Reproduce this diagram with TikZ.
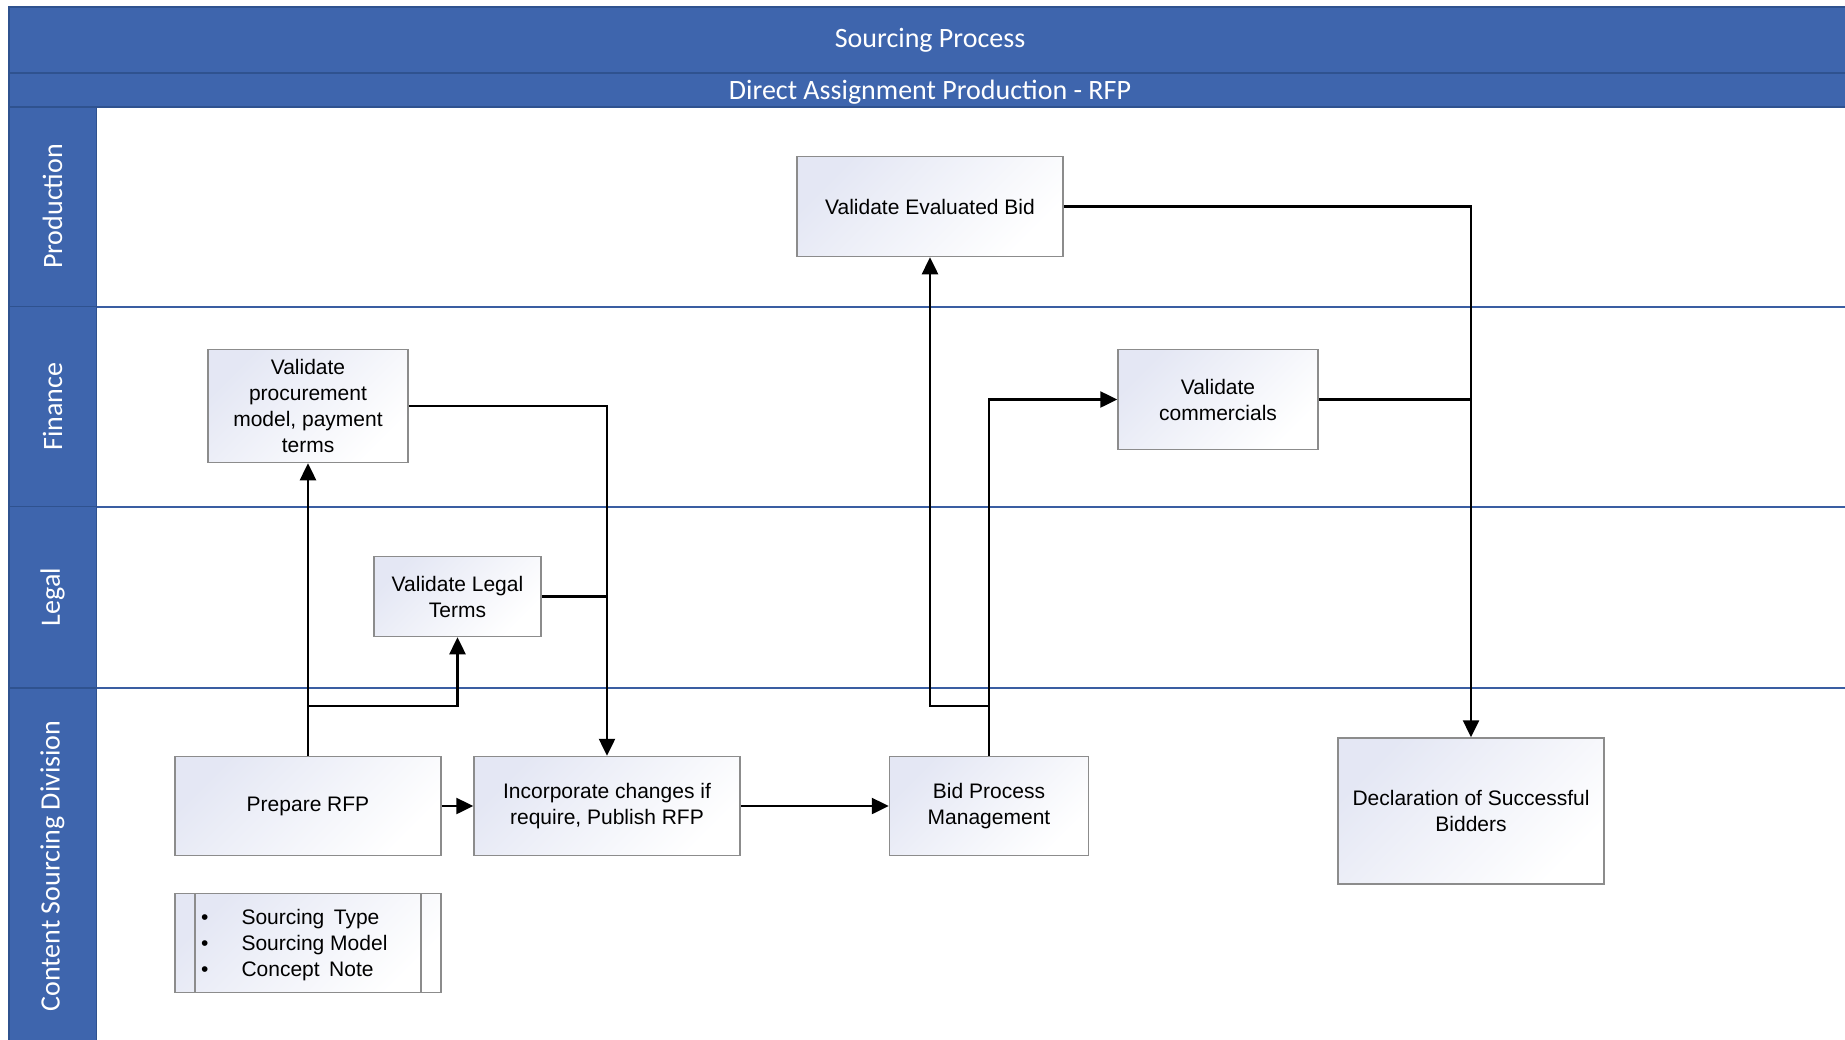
\documentclass[tikz,border=0pt]{standalone}
\usepackage{fontspec}
\setmainfont{Liberation Sans}
\newfontfamily\lanefont{Carlito}
\usetikzlibrary{arrows.meta}
\definecolor{bandblue}{RGB}{62,101,173}
\definecolor{banddark}{RGB}{47,82,143}
\definecolor{laneline}{RGB}{58,94,162}
\definecolor{boxgray}{RGB}{140,140,140}
\definecolor{boxlav}{RGB}{228,231,244}
\tikzset{
  band/.style={fill=bandblue, draw=banddark, line width=1.6pt},
  bandtext/.style={text=white, font=\lanefont\fontsize{28}{32}\selectfont, inner sep=0pt},
  lanetext/.style={text=white, font=\lanefont\fontsize{28}{32}\selectfont, inner sep=0pt, rotate=90},
  sepline/.style={draw=laneline, line width=2pt},
  task/.style={draw=boxgray, line width=1.5pt, top color=boxlav, bottom color=white, shading angle=45,
    align=center, inner sep=2pt, font=\fontsize{21}{26}\selectfont},
  arr/.style={line width=2.5pt, -{Triangle[length=17pt,width=16pt]}},
  link/.style={line width=2.5pt}
}
\begin{document}
\begin{tikzpicture}[x=1pt,y=-1pt]
\useasboundingbox (0,0) rectangle (1845,1039);
\fill[white] (0,0) rectangle (1845,1039);
% title bands
\draw[band] (9,7) rectangle (1850,73);
\draw[band] (9,73) rectangle (1850,107);
\node[bandtext] (title) at (930,40.5) {Sourcing Process};
\node[bandtext] (subtitle) at (930,92) {Direct Assignment Production - RFP};
% lane headers
\draw[band] (9,107) rectangle (96.5,306.5);
\draw[band] (9,306.5) rectangle (96.5,506.5);
\draw[band] (9,506.5) rectangle (96.5,688);
\draw[band] (9,688) rectangle (96.5,1045);
\node[lanetext] (lprod) at (52.5,206.5) {Production};
\node[lanetext] (lfin) at (52.5,406.5) {Finance};
\node[lanetext] (lleg) at (52.5,597) {Legal};
\node[lanetext] (lcsd) at (52.5,866) {Content Sourcing Division};
% lane separators
\draw[sepline] (96.5,306.5) -- (1850,306.5);
\draw[sepline] (96.5,506.5) -- (1850,506.5);
\draw[sepline] (96.5,688) -- (1850,688);
% tasks
\node[task, minimum width=266pt, minimum height=100pt] (veb) at (930,206.5) {Validate Evaluated Bid};
\node[task, minimum width=200pt, minimum height=113pt] (vpm) at (308,406) {Validate\\procurement\\model, payment\\terms};
\node[task, minimum width=200pt, minimum height=100pt] (vc) at (1218,399.5) {Validate\\commercials};
\node[task, minimum width=167pt, minimum height=80pt] (vlt) at (457.5,596.5) {Validate Legal\\Terms};
\node[task, minimum width=266pt, minimum height=99pt] (prfp) at (308,806) {Prepare RFP};
\node[task, minimum width=266pt, minimum height=99pt] (ich) at (607,806) {Incorporate changes if\\require, Publish RFP};
\node[task, minimum width=199pt, minimum height=99pt] (bpm) at (989,806) {Bid Process\\Management};
\node[task, minimum width=266pt, minimum height=146pt] (dsb) at (1471,811) {Declaration of Successful\\Bidders};
% bullet box
\node[draw=boxgray, line width=1.5pt, top color=boxlav, bottom color=white, shading angle=45,
  minimum width=266pt, minimum height=99pt, inner sep=0pt] (blt) at (308,943) {};
\draw[draw=boxgray, line width=1.5pt] (195,893.5) -- (195,992.5);
\draw[draw=boxgray, line width=1.5pt] (421,893.5) -- (421,992.5);
\node[anchor=west, inner sep=0pt, font=\fontsize{21}{26}\selectfont] (bltxt) at (201,945.5)
  {\begin{tabular}{@{}l@{\hspace{33pt}}l@{}}\textbullet & Sourcing\hspace{0.45em}Type\\ \textbullet & Sourcing Model\\ \textbullet & Concept\hspace{0.45em}Note\end{tabular}};
% connectors
\coordinate (j1) at (308,706);
\coordinate (j2) at (989,706);
\draw[arr] (prfp.north) -- (vpm.south);
\draw[arr] (j1) -| (vlt.south);
\draw[arr] (vpm.east) -| (ich.north);
\draw[link] (vlt.east) -- (vlt.east -| ich.north);
\draw[arr] (prfp.east) -- (ich.west);
\draw[arr] (ich.east) -- (bpm.west);
\draw[arr] (bpm.north) |- (vc.west);
\draw[arr] (j2) -| (veb.south);
\draw[arr] (veb.east) -| (dsb.north);
\draw[link] (vc.east) -- (vc.east -| dsb.north);
\end{tikzpicture}
\end{document}
